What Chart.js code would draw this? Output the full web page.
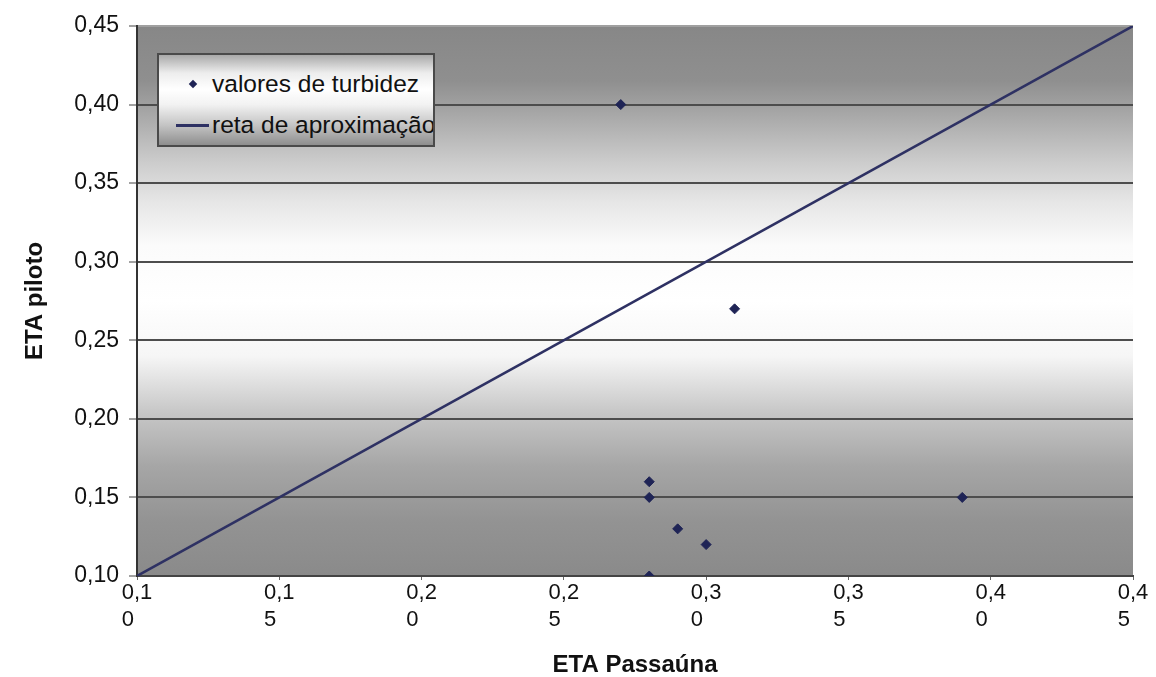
<!DOCTYPE html>
<html>
<head>
<meta charset="utf-8">
<title>Turbidez: ETA Passaúna x ETA piloto</title>
<script src="https://cdn.jsdelivr.net/npm/chart.js@4.4.0/dist/chart.umd.min.js"></script>
<style>
  html, body { margin: 0; padding: 0; background: #fff; }
  #quadro { position: relative; width: 1156px; height: 677px; }
  #legenda {
    position: absolute; left: 157px; top: 53px; width: 274px; height: 90px;
    border: 2px solid #4a4a4a; overflow: hidden; white-space: nowrap;
    background: linear-gradient(to bottom, #a9a9a9 0%, #ededed 20%, #ffffff 38%, #f2f2f2 55%, #c4c4c4 78%, #8e8e8e 100%);
    font-family: "Liberation Sans", Arial, sans-serif; font-size: 24.5px; color: #111;
  }
  .item { position: absolute; left: 0; height: 28px; line-height: 28px; }
  .item span.txt { position: absolute; left: 53px; top: 0; }
  .losango { position: absolute; width: 6px; height: 6px; transform: rotate(45deg); }
  .traco { position: absolute; height: 3px; }
</style>
</head>
<body>
<div id="quadro">
  <canvas id="grafico" width="1156" height="677"></canvas>
  <div id="legenda"></div>
</div>
<script>
// valores de turbidez nas duas estações
const etaPassauna = [0.27, 0.28, 0.28, 0.28, 0.29, 0.30, 0.31, 0.39];
const etaPiloto   = [0.40, 0.16, 0.15, 0.10, 0.13, 0.12, 0.27, 0.15];

// reta de aproximação (y = x)
const retaX = [0.10, 0.45];
const retaY = [0.10, 0.45];

// marcas dos eixos
const valoresEixo = [0.10, 0.15, 0.20, 0.25, 0.30, 0.35, 0.40, 0.45];
const rotulosX = ['0,10', '0,15', '0,20', '0,25', '0,30', '0,35', '0,40', '0,45'];
const rotulosY = ['0,10', '0,15', '0,20', '0,25', '0,30', '0,35', '0,40', '0,45'];

const fonte = '"Liberation Sans", Arial, sans-serif';

// fundo da área do gráfico em degradê cinza/branco
const fundo = {
  id: 'fundo',
  beforeDraw(chart) {
    const { ctx, chartArea: a } = chart;
    const g = ctx.createLinearGradient(0, a.top, 0, a.bottom);
    g.addColorStop(0.00, '#878787');
    g.addColorStop(0.10, '#8f8f8f');
    g.addColorStop(0.15, '#a3a3a3');
    g.addColorStop(0.25, '#cdcdcd');
    g.addColorStop(0.32, '#e6e6e6');
    g.addColorStop(0.40, '#fbfbfb');
    g.addColorStop(0.50, '#ffffff');
    g.addColorStop(0.60, '#f6f6f6');
    g.addColorStop(0.70, '#c8c8c8');
    g.addColorStop(0.80, '#a6a6a6');
    g.addColorStop(0.90, '#939393');
    g.addColorStop(1.00, '#8a8a8a');
    ctx.save();
    ctx.fillStyle = g;
    ctx.fillRect(a.left, a.top, a.width, a.height);
    ctx.restore();
  }
};

const pontos = etaPassauna.map((x, i) => ({ x: x, y: etaPiloto[i] }));
const reta = retaX.map((x, i) => ({ x: x, y: retaY[i] }));

const grafico = new Chart(document.getElementById('grafico'), {
  type: 'scatter',
  data: {
    datasets: [
      {
        label: 'valores de turbidez',
        data: pontos,
        pointStyle: 'rectRot',
        pointRadius: 5,
        backgroundColor: '#1f2456',
        borderColor: '#1f2456',
        borderWidth: 1
      },
      {
        label: 'reta de aproximação',
        data: reta,
        showLine: true,
        borderColor: '#2e3163',
        borderWidth: 2.5,
        pointRadius: 0,
        fill: false
      }
    ]
  },
  options: {
    responsive: false,
    animation: false,
    devicePixelRatio: 1,
    layout: { padding: { top: 26, right: 23, left: 0, bottom: 0 } },
    plugins: {
      legend: { display: false },
      tooltip: { enabled: false }
    },
    scales: {
      x: {
        type: 'linear',
        min: 0.10,
        max: 0.45,
        afterBuildTicks: s => { s.ticks = valoresEixo.map(v => ({ value: v })); },
        afterFit: s => { s.height = 101; },
        ticks: {
          autoSkip: false,
          maxRotation: 0,
          padding: 0,
          color: '#111',
          font: { family: fonte, size: 22 },
          // rótulo quebrado em duas linhas, a segunda alinhada à esquerda
          callback: (v, i) => {
            const t = rotulosX[i];
            return [t.slice(0, 3), t.slice(3) + '   '];
          }
        },
        grid: { drawOnChartArea: false, tickLength: 4, tickColor: '#666' },
        border: { color: '#444', width: 2 },
        title: {
          display: true,
          text: 'ETA Passaúna',
          color: '#111',
          font: { family: fonte, size: 24, weight: 'bold', lineHeight: 1 },
          padding: { top: 0, bottom: 0 }
        }
      },
      y: {
        min: 0.10,
        max: 0.45,
        afterBuildTicks: s => { s.ticks = valoresEixo.map(v => ({ value: v })); },
        afterFit: s => { s.width = 137; },
        ticks: {
          padding: 10,
          color: '#111',
          font: { family: fonte, size: 23 },
          callback: (v, i) => rotulosY[i]
        },
        grid: {
          color: c => (c.index === valoresEixo.length - 1 ? '#a0a0a0' : '#4d4d4d'),
          lineWidth: 2,
          tickLength: 8,
          tickColor: '#444',
          tickWidth: 1
        },
        border: { color: '#333', width: 2 },
        title: {
          display: true,
          text: 'ETA piloto',
          color: '#111',
          font: { family: fonte, size: 24, weight: 'bold', lineHeight: 1 },
          padding: { top: 23, bottom: 0 }
        }
      }
    }
  },
  plugins: [fundo]
});

// legenda dentro da área do gráfico, montada a partir das séries
const legenda = document.getElementById('legenda');
grafico.data.datasets.forEach((ds, i) => {
  const item = document.createElement('div');
  item.className = 'item';
  item.style.top = (i === 0 ? 15 : 56) + 'px';
  item.style.width = '100%';
  const simbolo = document.createElement('div');
  if (ds.showLine) {
    simbolo.className = 'traco';
    simbolo.style.left = '17px';
    simbolo.style.width = '33px';
    simbolo.style.top = '13px';
    simbolo.style.background = ds.borderColor;
  } else {
    simbolo.className = 'losango';
    simbolo.style.left = '31px';
    simbolo.style.top = '11px';
    simbolo.style.background = ds.backgroundColor;
  }
  const txt = document.createElement('span');
  txt.className = 'txt';
  txt.textContent = ds.label;
  item.appendChild(simbolo);
  item.appendChild(txt);
  legenda.appendChild(item);
});
</script>
</body>
</html>
